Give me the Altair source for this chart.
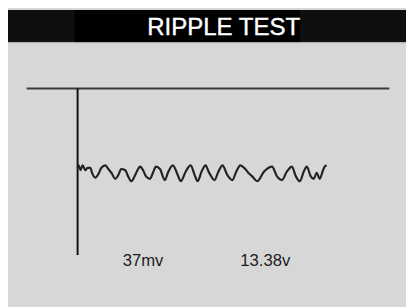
import altair as alt
import pandas as pd

# Ripple waveform: time (ms) and ripple voltage (mV)
t_ms = [0.0, 0.1, 0.3, 0.5, 0.8, 1.0, 1.3, 1.45, 1.8, 2.1, 2.4, 2.8, 3.1, 3.4, 3.8,
        4.1, 4.4, 4.8, 5.1, 5.4, 5.8, 6.1, 6.3, 6.6, 6.9, 7.3, 7.6, 7.9, 8.3, 8.8,
        9.1, 9.6, 10.1, 10.4, 10.9, 11.4, 11.8, 12.1, 12.5, 12.9, 13.2, 13.4, 13.8,
        14.2, 14.6, 15.1, 15.6, 16.0, 16.4, 16.9, 17.2, 17.6, 18.1, 18.8, 19.6,
        20.1, 20.6, 21.1, 21.6, 22.0, 22.4, 22.8, 23.1, 23.5, 23.8, 24.1, 24.4,
        24.7, 24.9, 25.1]
ripple_mv = [10, 15, 5, 15, 5, 10, 10, 0, -10, -2.5, 10, 15, 7.5, 0, -12.5,
             -5, 7.5, 5, -7.5, -17.5, -5, 7.5, 12.5, 5, -7.5, -12.5, 0, 12.5, 7.5, -15,
             0, 15, -5, -17.5, 2.5, 15, -5, -17.5, 2.5, 15, 2.5, -5, -15,
             2.5, 15, -5, -15, 2.5, 15, 7.5, 0, -7.5, -17.5, 2.5, 12.5,
             -7.5, -15, 2.5, 12.5, -7.5, -17.5, 2.5, 12.5, -7.5, -12.5, 0, -12.5,
             2.5, 12.5, 15]

title_text = ["RIPPLE TEST"]
readings = ["37mv", "13.38v"]

wave = pd.DataFrame({"t": t_ms, "v": ripple_mv})

FONT = "Liberation Sans"
W, H = 406, 300

xs = alt.Scale(domain=[0, 25], range=[71, 324])
ys = alt.Scale(domain=[-20, 20], range=[175, 155])

base = alt.Chart(pd.DataFrame({"k": [0]}))

bar_outer = base.mark_rect(color="#0f0f0f").encode(
    x=alt.value(0), x2=alt.value(W), y=alt.value(-1), y2=alt.value(32))
bar_inner = base.mark_rect(color="#000000").encode(
    x=alt.value(68), x2=alt.value(298), y=alt.value(-1), y2=alt.value(32))
bar_edge = base.mark_rule(color="#bcbcbc", strokeWidth=1).encode(
    x=alt.value(0), x2=alt.value(W), y=alt.value(32.5))

title = alt.Chart(pd.DataFrame({"txt": title_text})).mark_text(
    font=FONT, fontSize=24.5, color="white", align="center", baseline="alphabetic",
    stroke="white", strokeWidth=0.4
).encode(x=alt.value(220), y=alt.value(24.5), text="txt")

hline = base.mark_rule(color="#3a3a3a", strokeWidth=2).encode(
    x=alt.value(19), x2=alt.value(389), y=alt.value(79))
vline = base.mark_rule(color="#111111", strokeWidth=2).encode(
    x=alt.XDatum(0, scale=xs, axis=None), y=alt.value(79), y2=alt.value(249))

line = alt.Chart(wave).mark_line(color="#222222", strokeWidth=2.2, interpolate="monotone").encode(
    x=alt.X("t:Q", scale=xs, axis=None),
    y=alt.Y("v:Q", scale=ys, axis=None),
)

lab = pd.DataFrame({"txt": readings, "px": [117, 237]})
labels = alt.Chart(lab).mark_text(
    font=FONT, fontSize=17, color="#1c1c1c", align="left", baseline="alphabetic"
).encode(x=alt.X("px:Q", scale=alt.Scale(domain=[0, W], range=[0, W]), axis=None),
         y=alt.value(260), text="txt")

chart = alt.layer(bar_outer, bar_inner, bar_edge, title, hline, vline, line, labels).resolve_scale(
    x="independent"
).properties(
    width=W, height=H, background="#d7d7d7", padding=0,
    autosize=alt.AutoSizeParams(type="none"),
).configure_view(stroke=None).configure_axis(disable=True)

chart.save("out.html", embed_options={"renderer": "svg", "actions": False})
